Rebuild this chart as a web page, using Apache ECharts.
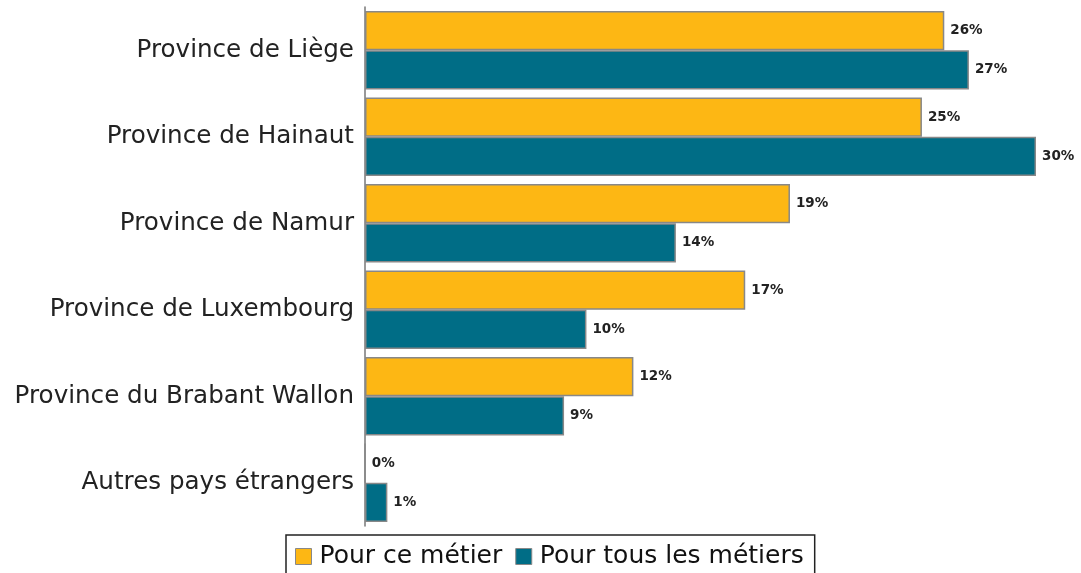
<!DOCTYPE html>
<html>
<head>
<meta charset="utf-8">
<script src="https://cdn.jsdelivr.net/npm/echarts@6/dist/echarts.min.js"></script>
<style>
  html, body { margin: 0; padding: 0; background: #fff; }
  #chart { width: 1081px; height: 573px; }
</style>
</head>
<body>
<div id="chart"></div>
<script>
// categories, from top to bottom
var provinces = ['Province de Liège', 'Province de Hainaut', 'Province de Namur',
                 'Province de Luxembourg', 'Province du Brabant Wallon', 'Autres pays étrangers'];
// values in %
var cemetier = [25.9, 24.9, 19.0, 17.0, 12.0, 0];
var tousmetiers = [27.0, 30.0, 13.9, 9.9, 8.9, 1.0];
var seriesNames = ['Pour ce métier', 'Pour tous les métiers'];

var labelStyle = {
    show: true,
    position: 'right',
    distance: 6,
    fontFamily: 'DejaVu Sans',
    fontSize: 13.5,
    fontWeight: 'bold',
    color: '#222',
    formatter: function (p) { return Math.round(p.value) + '%'; }
};

var option = {
    animation: false,
    grid: {
        left: 365,
        right: 45,
        top: 7,
        height: 519
    },
    legend: {
        data: seriesNames,
        left: 286,
        top: 535,
        itemWidth: 16,
        itemHeight: 16,
        itemGap: 13,
        padding: [9, 11, 12, 9],
        borderColor: '#222',
        borderWidth: 1.5,
        icon: 'rect',
        itemStyle: { borderColor: '#888', borderWidth: 1 },
        textStyle: {
            fontFamily: 'DejaVu Sans',
            fontSize: 25,
            color: '#111',
            padding: [0, 0, 0, 3]
        }
    },
    xAxis: {
        type: 'value',
        min: 0,
        max: 30,
        show: false
    },
    yAxis: {
        type: 'category',
        inverse: true,
        data: provinces,
        axisLine: { lineStyle: { color: '#777', width: 1.5 } },
        axisTick: { show: false },
        axisLabel: {
            margin: 11,
            fontFamily: 'DejaVu Sans',
            fontSize: 24.6,
            color: '#222'
        }
    },
    series: [
        {
            name: seriesNames[0],
            type: 'bar',
            data: cemetier,
            barGap: '0%',
            barCategoryGap: 8,
            itemStyle: { color: '#FDB714', borderColor: '#888', borderWidth: 1.5 },
            label: labelStyle
        },
        {
            name: seriesNames[1],
            type: 'bar',
            data: tousmetiers,
            barGap: '0%',
            barCategoryGap: 8,
            itemStyle: { color: '#006D86', borderColor: '#888', borderWidth: 1.5 },
            label: labelStyle
        }
    ]
};

var chart = echarts.init(document.getElementById('chart'));
chart.setOption(option);
</script>
</body>
</html>
